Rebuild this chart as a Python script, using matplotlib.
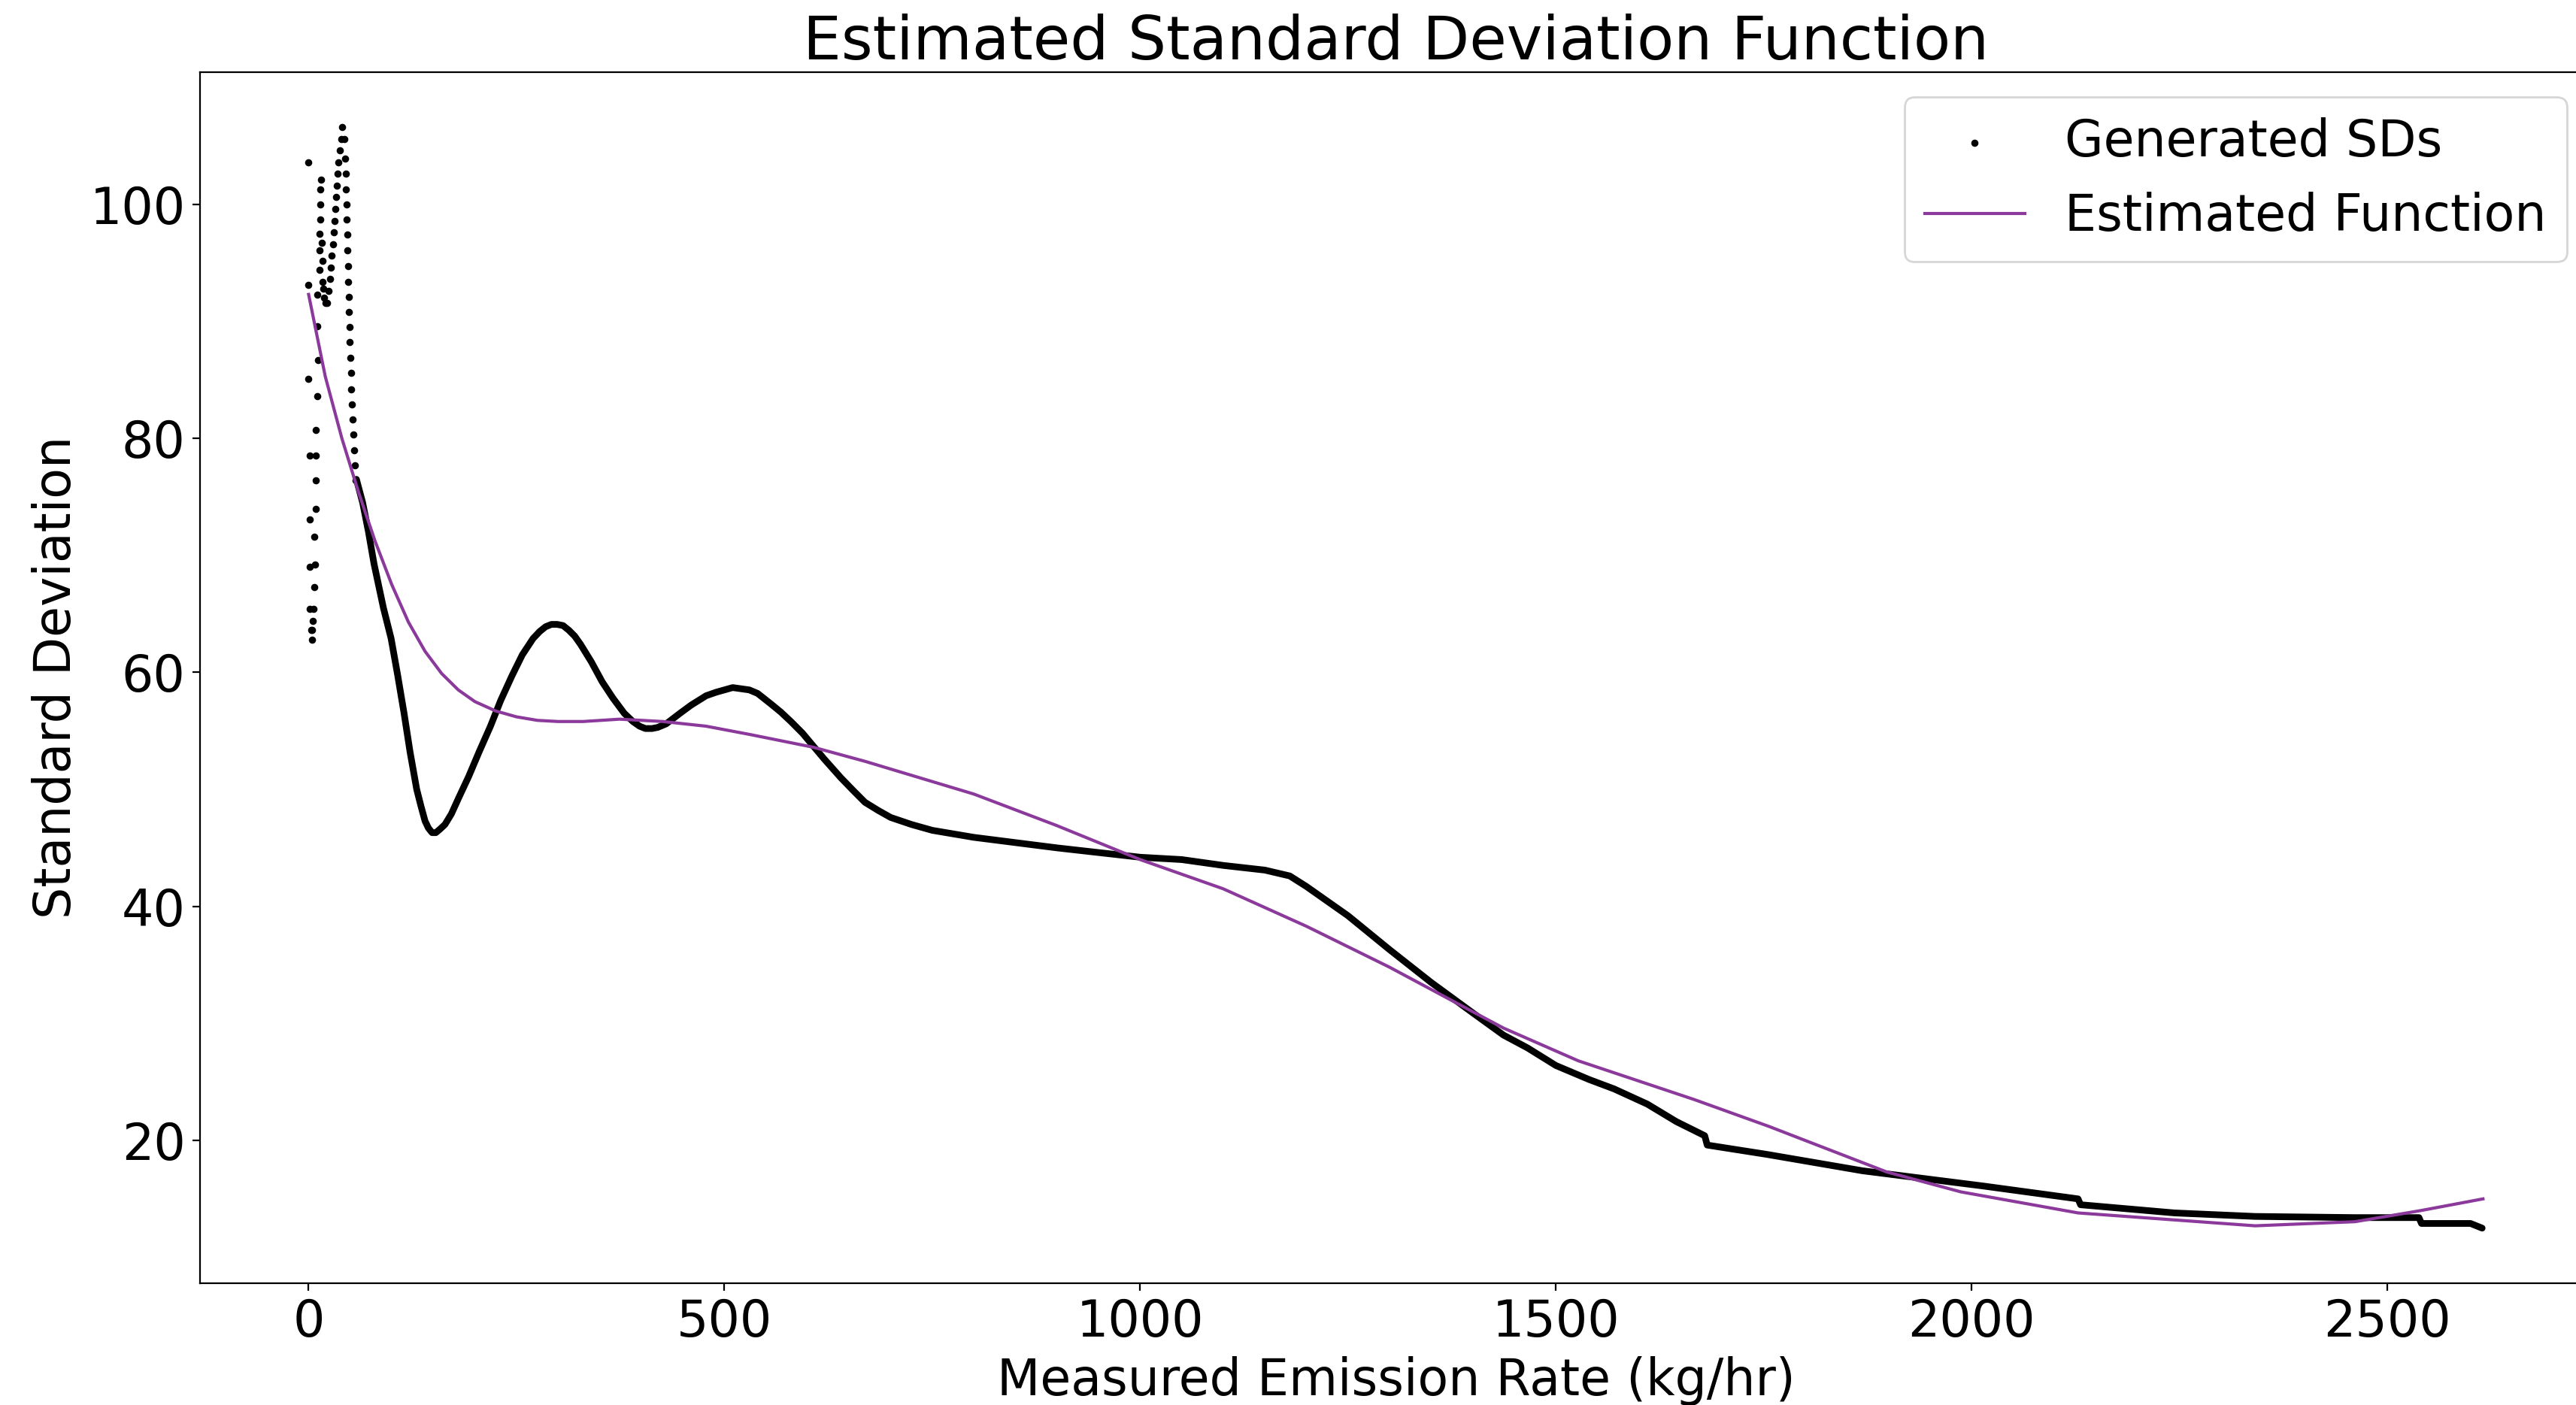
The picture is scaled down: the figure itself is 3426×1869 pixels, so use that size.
import matplotlib.pyplot as plt

# Generated SDs at the lowest rates, where the dots stand apart
low_rate = [0, 0, 0, 1.5, 1.5, 1.5, 1.5, 3, 4,
            10.5, 10.5, 11.4, 10.5, 8.4, 9.0, 8.4, 9.0, 6.9, 7.5, 6.6, 6.0, 5.4, 4.5,
            15.0, 14.4, 14.4, 14.0, 13.5, 16.0, 13.0, 16.5, 13.0, 17.0, 18.0, 19.0, 20.0,
            22.6, 24.0, 25.5, 27.1, 28.0, 29.0, 30.1, 31.0, 32.0, 33.1, 34.0, 35.0, 36.1,
            37.5, 39.0, 40.7,
            42.8, 44.3, 44.9, 45.2, 45.5, 45.8, 46.4, 46.7, 47.3, 47.6, 48.2, 48.8, 49.1,
            49.7, 50.3, 50.9, 51.5, 52.1, 52.7, 53.6, 54.5, 55.4, 56.6]
low_sd = [103.6, 93.1, 85.1, 78.5, 73.1, 69.0, 65.4, 63.6, 62.8,
          92.3, 89.6, 86.7, 83.6, 80.7, 78.5, 76.4, 74.0, 71.6, 69.2, 67.3, 65.4, 64.4, 63.6,
          102.1, 101.3, 100.0, 98.7, 97.5, 96.7, 96.1, 95.2, 94.4, 93.4, 92.8, 92.0, 91.6,
          91.6, 92.6, 93.6, 94.6, 95.6, 96.6, 97.6, 98.6, 99.6, 100.6, 101.6, 102.6, 103.6,
          104.6, 105.6, 106.6,
          105.6, 103.9, 102.6, 101.3, 100.0, 98.7, 97.4, 96.1, 94.7, 93.4, 92.1, 90.8, 89.5,
          88.2, 86.9, 85.6, 84.2, 82.9, 81.6, 80.3, 79.0, 77.7, 76.4]

# Generated SDs where the dots merge into a band (traced along the band)
rate = [57.5, 65, 72, 78.6, 90, 99.2, 107, 114.8, 122, 130, 135, 140, 144, 148.5, 153,
        158, 164, 171.7, 180, 192.5, 205, 218.7, 231, 244.5, 257, 270, 278, 285, 292, 299,
        306, 313, 320, 327, 340, 353, 366, 379.6, 390, 398, 405, 413, 420, 430, 446.6,
        460, 478, 490, 500, 510, 520, 530, 540, 556, 568, 580, 594, 607, 620, 640, 655,
        669, 685, 700, 725, 750, 800, 900, 1000, 1050, 1100, 1150, 1180, 1200, 1250,
        1300, 1350, 1400, 1437, 1466, 1500, 1540, 1570, 1610, 1645, 1679, 1682, 1754,
        1869, 2014, 2128, 2131, 2244, 2341, 2461, 2538, 2541, 2600, 2614]
sd = [76.5, 74.5, 72.0, 69.3, 65.5, 62.9, 59.8, 56.5, 53.2, 50.0, 48.6, 47.3, 46.7, 46.3, 46.3,
      46.6, 47.0, 47.9, 49.2, 51.1, 53.2, 55.4, 57.6, 59.7, 61.5, 62.9, 63.5, 63.9, 64.1, 64.1,
      64.0, 63.6, 63.1, 62.4, 60.9, 59.2, 57.8, 56.5, 55.8, 55.4, 55.2, 55.2, 55.3, 55.6, 56.5,
      57.2, 58.0, 58.3, 58.5, 58.7, 58.6, 58.5, 58.2, 57.3, 56.6, 55.8, 54.8, 53.7, 52.6, 51.0, 49.9,
      48.9, 48.2, 47.6, 47.0, 46.5, 45.9, 45.0, 44.2, 44.0, 43.5, 43.1, 42.6, 41.7, 39.2,
      36.3, 33.5, 30.9, 29.0, 27.9, 26.4, 25.2, 24.4, 23.1, 21.6, 20.4, 19.6, 18.8,
      17.4, 16.1, 15.0, 14.5, 13.8, 13.5, 13.4, 13.4, 12.9, 12.9, 12.5]

# Estimated function
fit_rate = [0, 20, 40, 60, 80, 100, 120, 140, 160, 180, 200, 225, 250, 275, 300, 330,
            374, 426, 478, 530, 607, 669, 800, 900, 1000, 1100, 1200, 1300, 1400,
            1437, 1527, 1666, 1756, 1898, 1987, 2128, 2341, 2461, 2540, 2615]
fit_sd = [92.3, 85.3, 80.0, 75.4, 71.2, 67.5, 64.3, 61.8, 59.9, 58.5, 57.5, 56.7, 56.2,
          55.9, 55.8, 55.8, 56.0, 55.8, 55.4, 54.7, 53.6, 52.4, 49.6, 46.9, 44.0, 41.5,
          38.3, 34.8, 31.0, 29.6, 26.8, 23.5, 21.2, 17.3, 15.6, 13.8, 12.7, 13.05, 14.0, 15.0]

plt.rcParams['font.size'] = 24

fig = plt.figure(figsize=(17.13, 9.345), dpi=200)
ax = fig.add_axes([0.0776, 0.0867, 0.9285, 0.862])

ax.plot(rate, sd, color='black', lw=3.2, solid_capstyle='round', solid_joinstyle='round')
ax.scatter(low_rate, low_sd, s=6, color='black', label='Generated SDs')
ax.plot(fit_rate, fit_sd, color='#8b3a9b', lw=1.5, label='Estimated Function')

ax.set_title('Estimated Standard Deviation Function', fontsize=29)
ax.set_xlabel('Measured Emission Rate (kg/hr)')
ax.set_ylabel('Standard Deviation')
ax.set_xticks([0, 500, 1000, 1500, 2000, 2500])
ax.set_yticks([20, 40, 60, 80, 100])
ax.legend(loc='upper right')

fig.savefig('out.png', dpi=200)
